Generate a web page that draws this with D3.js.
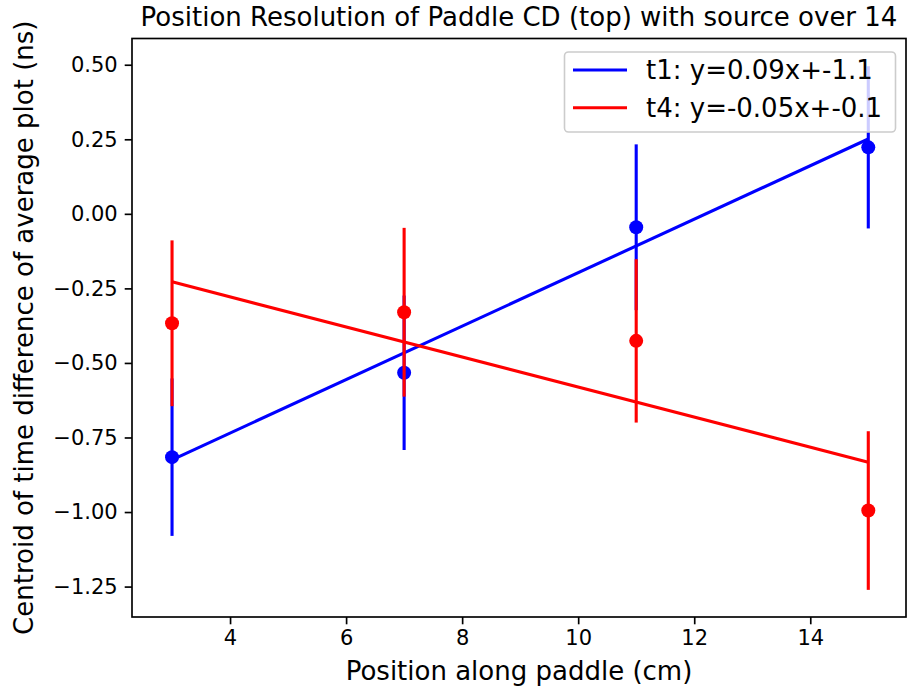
<!DOCTYPE html>
<html>
<head>
<meta charset="utf-8">
<script src="https://cdn.jsdelivr.net/npm/d3@7"></script>
<style>
  body { margin: 0; background: #fff; }
  text { font-family: "DejaVu Sans", sans-serif; fill: #000; }
</style>
</head>
<body>
<script>
const w = 908
const h = 688

// plot box in pixels
let margin = { top: 38.5, left: 132, bottom: 71, right: 2 }

// data
const positions = [3, 7, 11, 15]
const t1Values = [-0.816, -0.533, -0.045, 0.223]
const t1Errors = [0.264, 0.259, 0.278, 0.272]
const t4Values = [-0.367, -0.330, -0.426, -0.995]
const t4Errors = [0.278, 0.283, 0.274, 0.266]

// fitted lines, evaluated at first and last position
const fitX = [3, 15]
const t1Fit = [-0.825, 0.251]
const t4Fit = [-0.228, -0.833]

const xTicks = [4, 6, 8, 10, 12, 14]
const yTicks = [0.5, 0.25, 0, -0.25, -0.5, -0.75, -1, -1.25]
const legendLabels = ["t1: y=0.09x+-1.1", "t4: y=-0.05x+-0.1"]
const colors = ["#0000ff", "#ff0000"]

const svg = d3.select('body')
    .append('svg')
    .attr('width', w)
    .attr('height', h)

const x = d3.scaleLinear()
    .domain([2.31, 15.65])
    .range([margin.left, w - margin.right])

const y = d3.scaleLinear()
    .domain([-1.352, 0.588])
    .range([h - margin.bottom, margin.top])

const series = [
    { values: t1Values, errors: t1Errors, fit: t1Fit, color: colors[0] },
    { values: t4Values, errors: t4Errors, fit: t4Fit, color: colors[1] }
]

const plot = svg.append('g')

series.forEach(s => {
    const pts = positions.map((p, i) => ({ x: p, v: s.values[i], e: s.errors[i] }))

    // error bars
    plot.append('g').selectAll('line')
        .data(pts)
        .enter()
        .append('line')
        .attr('x1', d => x(d.x))
        .attr('x2', d => x(d.x))
        .attr('y1', d => y(d.v - d.e))
        .attr('y2', d => y(d.v + d.e))
        .attr('stroke', s.color)
        .attr('stroke-width', 3.1)

    plot.append('g').selectAll('circle')
        .data(pts)
        .enter()
        .append('circle')
        .attr('cx', d => x(d.x))
        .attr('cy', d => y(d.v))
        .attr('r', 7)
        .attr('fill', s.color)

    // fit line
    const line = d3.line()
        .x(d => x(d[0]))
        .y(d => y(d[1]))
    plot.append('path')
        .datum(fitX.map((fx, i) => [fx, s.fit[i]]))
        .attr('d', line)
        .attr('fill', 'none')
        .attr('stroke', s.color)
        .attr('stroke-width', 3.1)
})

// axes
const xAxis = svg.append('g')
    .attr('transform', `translate(0,${h - margin.bottom})`)
    .call(d3.axisBottom(x).tickValues(xTicks).tickSize(7.3).tickPadding(6).tickFormat(d3.format('d')))
const yAxis = svg.append('g')
    .attr('transform', `translate(${margin.left},0)`)
    .call(d3.axisLeft(y).tickValues(yTicks).tickSize(7.3).tickPadding(7).tickFormat(d3.format('.2f')))

;[xAxis, yAxis].forEach(a => {
    a.select('.domain').remove()
    a.selectAll('.tick line').attr('stroke', '#000').attr('stroke-width', 1.67)
    a.selectAll('.tick text').attr('font-size', '21px').attr('font-family', '"DejaVu Sans", sans-serif').attr('fill', '#000')
})

// frame
svg.append('rect')
    .attr('x', margin.left)
    .attr('y', margin.top)
    .attr('width', w - margin.left - margin.right)
    .attr('height', h - margin.top - margin.bottom)
    .attr('fill', 'none')
    .attr('stroke', '#000')
    .attr('stroke-width', 1.67)

// titles
svg.append('text')
    .attr('x', (margin.left + w - margin.right) / 2)
    .attr('y', 26)
    .attr('text-anchor', 'middle')
    .attr('font-size', '26px')
    .text('Position Resolution of Paddle CD (top) with source over 14')

svg.append('text')
    .attr('x', (margin.left + w - margin.right) / 2)
    .attr('y', 680)
    .attr('text-anchor', 'middle')
    .attr('font-size', '26px')
    .text('Position along paddle (cm)')

svg.append('text')
    .attr('transform', `translate(33,${(margin.top + h - margin.bottom) / 2}) rotate(-90)`)
    .attr('text-anchor', 'middle')
    .attr('font-size', '26px')
    .text('Centroid of time difference of average plot (ns)')

// legend
const legend = svg.append('g')
legend.append('rect')
    .attr('x', 564.5)
    .attr('y', 52)
    .attr('width', 331)
    .attr('height', 80)
    .attr('rx', 4)
    .attr('fill', 'white')
    .attr('fill-opacity', 0.8)
    .attr('stroke', '#cccccc')
    .attr('stroke-width', 1.6)

legendLabels.forEach((lab, i) => {
    const ly = 70 + i * 37.7
    legend.append('line')
        .attr('x1', 573).attr('x2', 627)
        .attr('y1', ly).attr('y2', ly)
        .attr('stroke', colors[i])
        .attr('stroke-width', 3.1)
    legend.append('text')
        .attr('x', 646)
        .attr('y', ly + 9)
        .attr('font-size', '26px')
        .text(lab)
})
</script>
</body>
</html>
